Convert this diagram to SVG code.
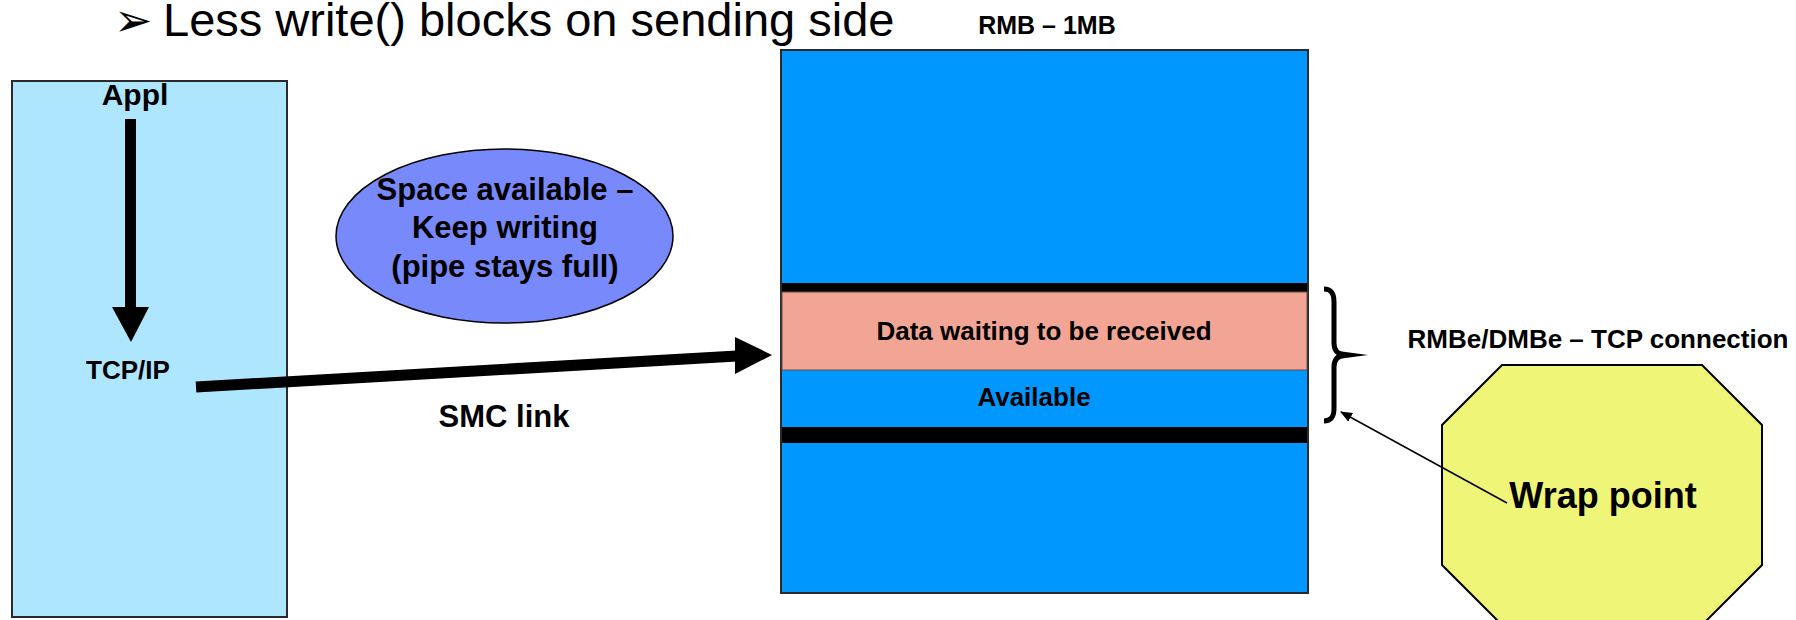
<svg xmlns="http://www.w3.org/2000/svg" width="1796" height="620" viewBox="0 0 1796 620">
  <style>
    .lbl { font-family: "Liberation Sans", Arial, Helvetica, sans-serif; font-weight: bold; fill: #000; text-anchor: middle; }
    .title { font-family: "Liberation Sans", Arial, Helvetica, sans-serif; font-size: 47px; fill: #000; }
    .edge { stroke: #2a2a2a; stroke-width: 2; }
    .band { fill: #000; }
  </style>
  <defs>
    <marker id="thinHead" viewBox="0 0 12 10" refX="11" refY="5" markerWidth="12" markerHeight="10" markerUnits="userSpaceOnUse" orient="auto">
      <path d="M0 0 L12 5 L0 10 Z" fill="#000"/>
    </marker>
  </defs>

  <rect width="1796" height="620" fill="#fff"/>

  <!-- heading bullet line -->
  <g id="heading">
    <text class="title" y="36"><tspan x="114" font-family="DejaVu Sans, sans-serif" font-size="46">➢</tspan><tspan x="163">Less write() blocks on sending side</tspan></text>
  </g>

  <!-- sending host -->
  <g id="sender">
    <rect class="edge" x="12" y="81" width="275" height="536" fill="#AEE6FF"/>
    <text class="lbl" x="135" y="105" font-size="30">Appl</text>
    <text class="lbl" x="128" y="379" font-size="26">TCP/IP</text>
  </g>

  <!-- status bubble -->
  <g id="status">
    <ellipse cx="504.5" cy="236" rx="168.5" ry="87" fill="#7889FC" stroke="#000" stroke-width="1.5"/>
    <text class="lbl" font-size="31"><tspan x="505" y="200">Space available –</tspan><tspan x="505" y="238">Keep writing</tspan><tspan x="505" y="277">(pipe stays full)</tspan></text>
  </g>

  <!-- receive memory buffer -->
  <g id="rmb">
    <text class="lbl" x="1047" y="34" font-size="25">RMB – 1MB</text>
    <rect class="edge" x="781" y="50" width="527" height="543" fill="#0098FF"/>
    <rect class="band" x="782" y="283" width="525" height="9"/>
    <rect x="782" y="292" width="525" height="78" fill="#F2A595" stroke="#6a4a44" stroke-width="1"/>
    <rect class="band" x="782" y="427" width="525" height="16"/>
    <text class="lbl" x="1044" y="340" font-size="26">Data waiting to be received</text>
    <text class="lbl" x="1034" y="406" font-size="26">Available</text>
  </g>

  <!-- connection element brace -->
  <g id="rmbe">
    <path d="M1324 289 C1331 289 1334 293 1334 302 L1334 343 C1334 350 1337 354 1344 355 M1344 355 C1337 356 1334 360 1334 367 L1334 408 C1334 417 1331 421 1324 421" fill="none" stroke="#000" stroke-width="5"/>
    <path d="M1338 351 L1368 355 L1338 359 Z" fill="#000"/>
    <text class="lbl" x="1598" y="348" font-size="26">RMBe/DMBe – TCP connection</text>
  </g>

  <!-- wrap point callout -->
  <g id="wrap">
    <polygon points="1502,365 1702,365 1762,425 1762,565 1702,625 1502,625 1442,565 1442,425" fill="#EEF577" stroke="#000" stroke-width="2"/>
    <text class="lbl" x="1603" y="508" font-size="36">Wrap point</text>
  </g>

  <!-- connectors -->
  <g id="connectors">
    <!-- application down to the stack -->
    <rect x="125" y="119" width="11" height="189" fill="#000"/>
    <polygon points="112,307 149,307 131,342" fill="#000"/>
    <!-- SMC link into the buffer -->
    <line x1="196" y1="387" x2="737" y2="356" stroke="#000" stroke-width="11"/>
    <polygon points="735,337 772,355 735,374" fill="#000"/>
    <text class="lbl" x="504" y="427" font-size="31">SMC link</text>
    <!-- wrap point pointer -->
    <line x1="1507" y1="503" x2="1341" y2="412" stroke="#000" stroke-width="1.5" marker-end="url(#thinHead)"/>
  </g>
</svg>
